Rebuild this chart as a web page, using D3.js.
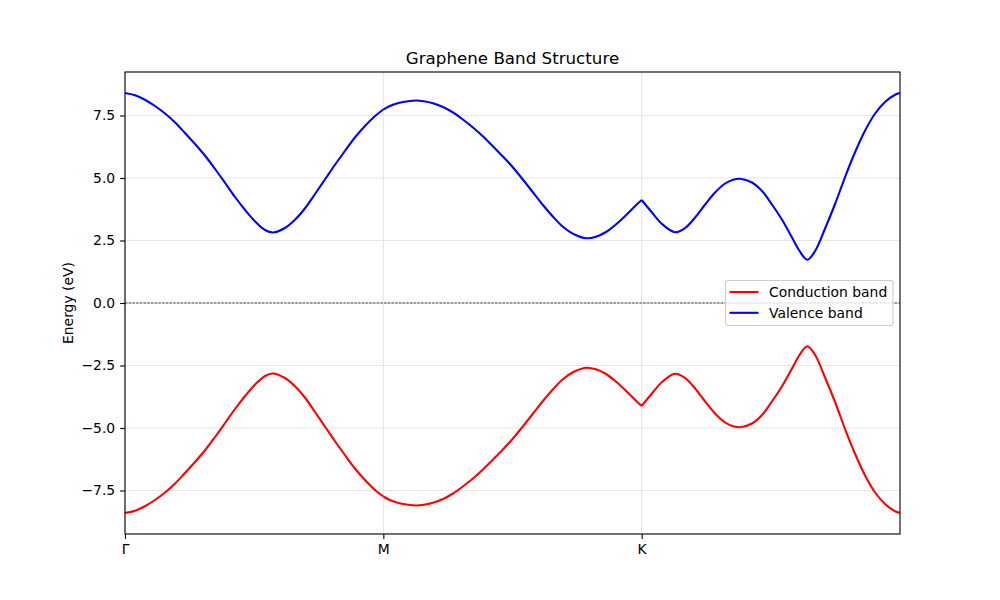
<!DOCTYPE html>
<html>
<head>
<meta charset="utf-8">
<script src="https://cdn.jsdelivr.net/npm/d3@7"></script>
<style>
  body { margin: 0; background: #fff; }
  svg { display: block; font-family: "DejaVu Sans", sans-serif; }
</style>
</head>
<body>
<svg id="chart" width="1000" height="600"></svg>
<script>
// ---- data ----
const kPoints = [0, 1, 2];
const kLabels = ["Γ", "M", "K"];
const yTicks = [-7.5, -5.0, -2.5, 0.0, 2.5, 5.0, 7.5];

const kPath = [
  0.000, 0.039, 0.077, 0.116, 0.155, 0.194, 0.232, 0.271, 0.310, 0.348, 0.387, 0.426, 0.465, 0.503,
  0.542, 0.573, 0.619, 0.658, 0.697, 0.735, 0.774, 0.813, 0.852, 0.890, 0.929, 0.968, 1.000,
  1.037, 1.076, 1.126, 1.157, 1.192, 1.231, 1.270, 1.308, 1.347, 1.386, 1.424, 1.463, 1.502, 1.540,
  1.579, 1.618, 1.657, 1.695, 1.734, 1.785, 1.823, 1.862, 1.901, 1.940, 1.978, 2.000,
  2.040, 2.079, 2.129, 2.168, 2.206, 2.245, 2.284, 2.323, 2.354, 2.381, 2.427, 2.466, 2.505, 2.544,
  2.582, 2.610, 2.641, 2.671, 2.710, 2.749, 2.787, 2.826, 2.865, 2.903, 2.942, 2.981, 3.000
];

const valenceBand = [
  8.40, 8.31, 8.13, 7.88, 7.58, 7.22, 6.80, 6.36, 5.89, 5.37, 4.81, 4.24, 3.72, 3.27,
  2.92, 2.82, 3.00, 3.33, 3.79, 4.35, 4.94, 5.53, 6.09, 6.62, 7.08, 7.48, 7.74,
  7.93, 8.04, 8.10, 8.07, 7.99, 7.84, 7.62, 7.34, 7.02, 6.66, 6.27, 5.86, 5.42, 4.94,
  4.43, 3.92, 3.45, 3.05, 2.77, 2.59, 2.65, 2.84, 3.15, 3.52, 3.91, 4.12,
  3.62, 3.16, 2.83, 3.00, 3.41, 3.93, 4.42, 4.78, 4.93, 4.97, 4.82, 4.48, 3.93, 3.32,
  2.62, 2.10, 1.73, 2.07, 2.98, 3.97, 5.03, 6.03, 6.90, 7.57, 8.04, 8.33, 8.40
];

const conductionBand = [
  -8.40, -8.31, -8.13, -7.88, -7.58, -7.22, -6.80, -6.36, -5.89, -5.37, -4.81, -4.24, -3.72, -3.27,
  -2.92, -2.82, -3.00, -3.33, -3.79, -4.35, -4.94, -5.53, -6.09, -6.62, -7.08, -7.48, -7.74,
  -7.93, -8.04, -8.10, -8.07, -7.99, -7.84, -7.62, -7.34, -7.02, -6.66, -6.27, -5.86, -5.42, -4.94,
  -4.43, -3.92, -3.45, -3.05, -2.77, -2.59, -2.65, -2.84, -3.15, -3.52, -3.91, -4.12,
  -3.62, -3.16, -2.83, -3.00, -3.41, -3.93, -4.42, -4.78, -4.93, -4.97, -4.82, -4.48, -3.93, -3.32,
  -2.62, -2.10, -1.73, -2.07, -2.98, -3.97, -5.03, -6.03, -6.90, -7.57, -8.04, -8.33, -8.40
];

const seriesNames = ["Conduction band", "Valence band"];
const seriesColors = ["#ff0000", "#0000ff"];

// ---- layout ----
const svg = d3.select("#chart");
const L = 125, R = 900, T = 72, B = 534;
const x = d3.scaleLinear().domain([0, 3]).range([L, R]);
const y = d3.scaleLinear().domain([-9.24, 9.24]).range([B, T]);
const fs = 13.9;

// grid
const grid = svg.append("g").attr("stroke", "#e6e6e6").attr("stroke-width", 1.1);
kPoints.forEach(k => grid.append("line")
  .attr("x1", x(k)).attr("x2", x(k)).attr("y1", T).attr("y2", B));
yTicks.forEach(v => grid.append("line")
  .attr("x1", L).attr("x2", R).attr("y1", y(v)).attr("y2", y(v)));

// zero line
svg.append("line")
  .attr("x1", L).attr("x2", R).attr("y1", y(0)).attr("y2", y(0))
  .attr("stroke", "#000").attr("stroke-width", 0.7)
  .attr("stroke-dasharray", "2.6,1.1");

// bands, drawn per path segment so kinks at M and K stay sharp
const bands = [conductionBand, valenceBand];
const line = d3.line().x(d => x(d[0])).y(d => y(d[1])).curve(d3.curveCatmullRom.alpha(0.5));
bands.forEach((vals, si) => {
  const pts = kPath.map((k, i) => [k, vals[i]]);
  for (let s = 0; s < 3; s++) {
    const seg = pts.filter(p => p[0] >= s - 1e-9 && p[0] <= s + 1 + 1e-9);
    svg.append("path")
      .attr("d", line(seg))
      .attr("fill", "none")
      .attr("stroke", seriesColors[si])
      .attr("stroke-width", 2.08)
      .attr("stroke-linejoin", "round")
      .attr("stroke-linecap", "butt");
  }
});

// axes frame
svg.append("rect").attr("x", L).attr("y", T).attr("width", R - L).attr("height", B - T)
  .attr("fill", "none").attr("stroke", "#000").attr("stroke-width", 1.1);

// axes
const fmt = d3.format(".1f");
const yAxis = d3.axisLeft(y).tickValues(yTicks)
  .tickFormat(v => fmt(v).replace("-", "−")).tickSize(4.9).tickPadding(4.9);
const gy = svg.append("g").attr("transform", `translate(${L},0)`).call(yAxis);
const xAxis = d3.axisBottom(x).tickValues(kPoints)
  .tickFormat((d, i) => kLabels[i]).tickSize(4.9).tickPadding(4.9);
const gx = svg.append("g").attr("transform", `translate(0,${B})`).call(xAxis);
[gx, gy].forEach(g => {
  g.select(".domain").remove();
  g.selectAll(".tick line").attr("stroke", "#000").attr("stroke-width", 1.1);
  g.selectAll(".tick text").attr("fill", "#000")
    .style("font-family", "DejaVu Sans").style("font-size", fs + "px");
});

// title
svg.append("text").attr("x", (L + R) / 2).attr("y", 64)
  .attr("text-anchor", "middle").style("font-size", "16.7px")
  .text("Graphene Band Structure");

// y label
svg.append("text").attr("transform", `translate(73,${(T + B) / 2}) rotate(-90)`)
  .attr("text-anchor", "middle").style("font-size", fs + "px")
  .text("Energy (eV)");

// legend
const lg = svg.append("g");
lg.append("rect").attr("x", 725.5).attr("y", 280.5).attr("width", 167.5).attr("height", 45)
  .attr("rx", 2.8).attr("fill", "#fff").attr("fill-opacity", 0.8)
  .attr("stroke", "#cccccc").attr("stroke-width", 1.1);
seriesNames.forEach((name, i) => {
  const yy = 292 + i * 20.8;
  lg.append("line").attr("x1", 729.5).attr("x2", 758.5).attr("y1", yy).attr("y2", yy)
    .attr("stroke", seriesColors[i]).attr("stroke-width", 2.08);
  lg.append("text").attr("x", 769).attr("y", yy).attr("dy", "0.35em")
    .style("font-size", fs + "px").text(name);
});
</script>
</body>
</html>
